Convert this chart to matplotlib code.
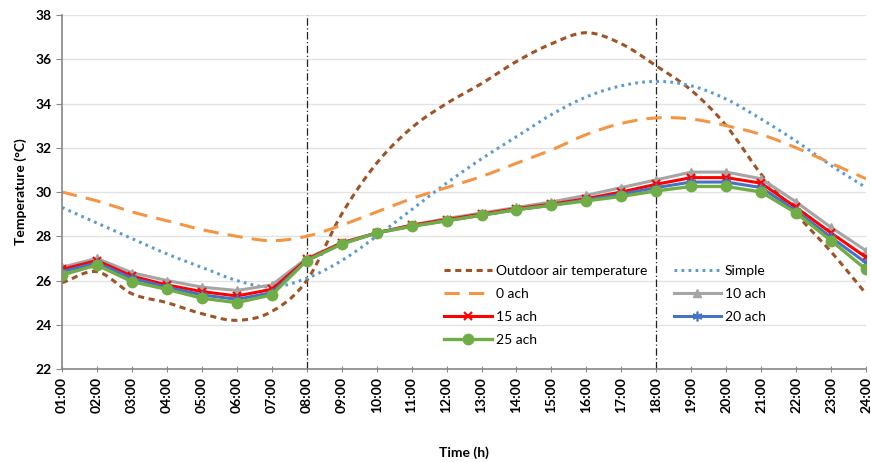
import numpy as np
import matplotlib
matplotlib.use("Agg")
import matplotlib.pyplot as plt
from matplotlib.ticker import MultipleLocator

plt.rcParams["font.family"] = ["Lato", "DejaVu Sans"]

hours = [f"{h:02d}:00" for h in range(1, 25)]

outdoor = [25.9, 26.4, 25.4, 25.0, 24.5, 24.2, 24.6, 26.0, 29.0, 31.3, 32.9, 34.0,
           34.9, 35.9, 36.7, 37.2, 36.7, 35.7, 34.6, 33.0, 30.8, 29.0, 27.3, 25.4]
simple = [29.3, 28.6, 27.9, 27.2, 26.6, 26.0, 25.7, 26.1, 26.9, 28.0, 29.2, 30.4,
          31.5, 32.5, 33.5, 34.3, 34.8, 35.0, 34.8, 34.2, 33.3, 32.3, 31.2, 30.2]
ach_0 = [30.0, 29.6, 29.1, 28.7, 28.3, 28.0, 27.8, 28.0, 28.5, 29.1, 29.7, 30.2,
         30.7, 31.3, 31.9, 32.6, 33.1, 33.35, 33.3, 33.0, 32.6, 32.0, 31.3, 30.6]
ach_10 = [26.6, 27.0, 26.35, 26.0, 25.7, 25.55, 25.8, 27.0, 27.7, 28.15, 28.5, 28.8,
          29.05, 29.3, 29.55, 29.85, 30.2, 30.55, 30.9, 30.9, 30.6, 29.55, 28.4, 27.35]
ach_15 = [26.5, 26.9, 26.2, 25.8, 25.5, 25.3, 25.6, 26.95, 27.7, 28.15, 28.5, 28.75,
          29.0, 29.25, 29.45, 29.7, 30.0, 30.35, 30.65, 30.65, 30.4, 29.3, 28.15, 27.05]
ach_20 = [26.4, 26.8, 26.1, 25.7, 25.35, 25.15, 25.45, 26.9, 27.65, 28.15, 28.45, 28.7,
          28.95, 29.2, 29.4, 29.65, 29.9, 30.2, 30.45, 30.45, 30.2, 29.15, 27.95, 26.8]
ach_25 = [26.25, 26.7, 25.95, 25.6, 25.2, 25.0, 25.35, 26.9, 27.65, 28.15, 28.45, 28.7,
          28.95, 29.2, 29.4, 29.6, 29.8, 30.05, 30.25, 30.25, 30.0, 29.05, 27.8, 26.5]


def smooth(y, n=12):
    # Catmull-Rom curve through the hourly values (Excel "smoothed line" look)
    y = np.asarray(y, dtype=float)
    p = np.concatenate([[2 * y[0] - y[1]], y, [2 * y[-1] - y[-2]]])
    xs, ys = [], []
    for i in range(len(y) - 1):
        p0, p1, p2, p3 = p[i], p[i + 1], p[i + 2], p[i + 3]
        t = np.linspace(0, 1, n, endpoint=False)
        v = 0.5 * ((2 * p1) + (-p0 + p2) * t + (2 * p0 - 5 * p1 + 4 * p2 - p3) * t ** 2
                   + (-p0 + 3 * p1 - 3 * p2 + p3) * t ** 3)
        xs.append(i + t)
        ys.append(v)
    xs.append([len(y) - 1])
    ys.append([y[-1]])
    return np.concatenate(xs), np.concatenate(ys)


fig = plt.figure(figsize=(8.71, 4.62), dpi=100)
ax = fig.add_axes([0.0712, 0.2013, 0.9231, 0.7662])
x = np.arange(len(hours))

l_out, = ax.plot(*smooth(outdoor), color="#9e5427", lw=2.2, dashes=(2.0, 1.5),
                 label="Outdoor air temperature")
l_simple, = ax.plot(*smooth(simple), color="#5b9bd5", lw=2.2, dashes=(0.9, 1.4),
                    label="Simple")
l_0, = ax.plot(*smooth(ach_0), color="#f39543", lw=2.2, dashes=(5, 3),
               label="0 ach")
l_10, = ax.plot(x, ach_10, color="#a5a5a5", lw=2.2, marker="^", ms=6,
                label="10 ach")
l_15, = ax.plot(x, ach_15, color="#ff0000", lw=2.2, marker="x", ms=6, mew=1.5,
                label="15 ach")
l_20, = ax.plot(x, ach_20, color="#4472c4", lw=2.2, marker=(6, 2, 0), ms=7, mew=1.2,
                label="20 ach")
l_25, = ax.plot(x, ach_25, color="#70ad47", lw=2.4, marker="o", ms=7.5,
                label="25 ach")

for xv in (7, 17):
    ax.axvline(xv, color="#222222", lw=0.9, ls=(0, (6, 2, 1, 2)), zorder=1)

ax.set_xlim(0, len(hours) - 1)
ax.set_ylim(22, 38)
ax.yaxis.set_major_locator(MultipleLocator(2))
ax.set_xticks(x)
ax.set_xticklabels(hours, rotation=90, fontsize=10, fontweight="bold")
for lab in ax.get_yticklabels():
    lab.set_fontweight("bold")
ax.tick_params(axis="y", labelsize=10, color="#888888", length=4)
ax.tick_params(axis="x", color="#888888", length=4, direction="inout")
ax.grid(axis="y", color="#e3e3e3", lw=1)
ax.set_axisbelow(True)
for side in ("top", "right"):
    ax.spines[side].set_visible(False)
for side in ("left", "bottom"):
    ax.spines[side].set_color("#888888")
    ax.spines[side].set_linewidth(1.2)

ax.set_ylabel("Temperature (°C)", fontsize=10, fontweight="bold", labelpad=6)
fig.text(0.533, 0.02, "Time (h)", fontsize=10, fontweight="bold",
         ha="center", va="center")

ax.legend(handles=[l_out, l_0, l_15, l_25, l_simple, l_10, l_20], ncol=2,
          frameon=False, fontsize=10, loc="lower left",
          bbox_to_anchor=(0.46, 0.03), handlelength=3.4, handletextpad=0.3,
          columnspacing=1.9, labelspacing=0.8)

fig.savefig("out.png", dpi=100)
